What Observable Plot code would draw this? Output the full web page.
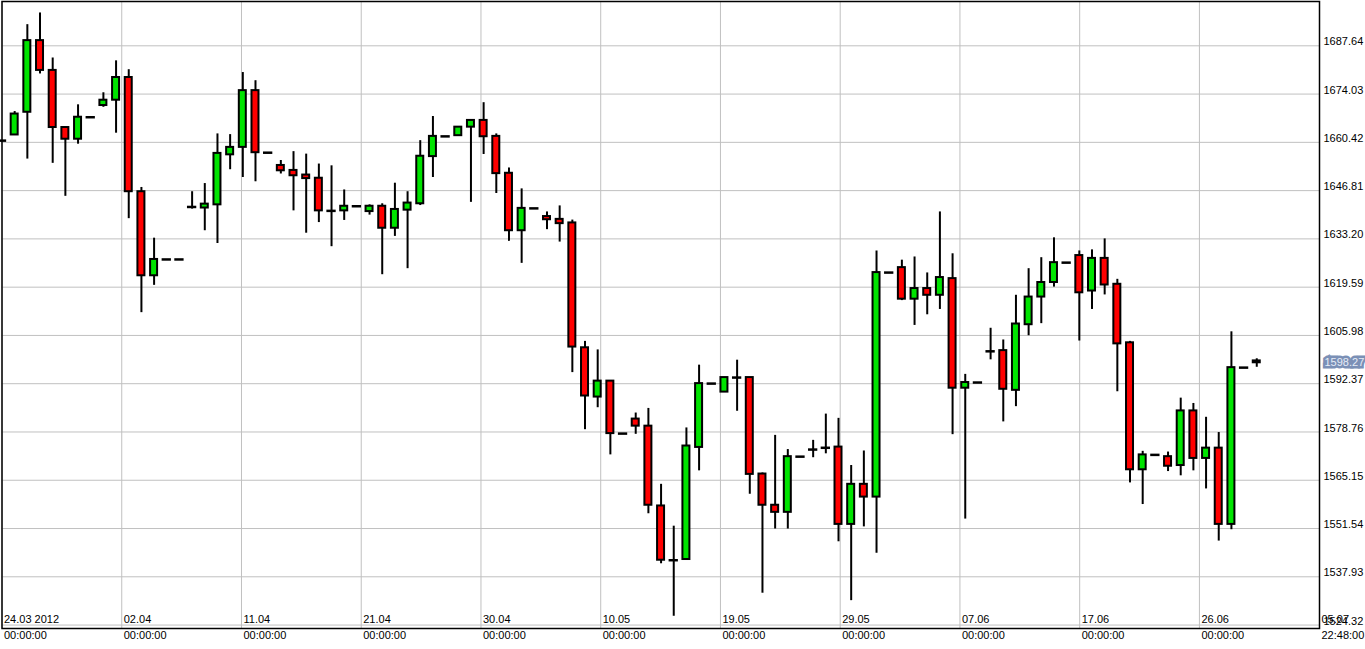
<!DOCTYPE html>
<html><head><meta charset="utf-8">
<script src="https://cdn.jsdelivr.net/npm/d3@7"></script>
<script src="https://cdn.jsdelivr.net/npm/@observablehq/plot@0.6"></script>
<style>html,body{margin:0;padding:0;background:#fff;overflow:hidden}</style>
</head><body><div id="chart"></div>
<script>
// Daily bars, first bar = 24.03.2012
const firstDay = "2012-03-24";
const opens = [1660.9,1662.5,1668.9,1689.1,1680.7,1664.6,1661.3,1667.5,1670.8,1672.3,
1678.7,1646.5,1622.8,1627.4,1627.4,1642.2,1641.9,1642.8,1656.9,1659.0,
1675.0,1657.5,1653.9,1652.5,1651.2,1650.3,1641.1,1641.1,1642.4,1640.9,
1642.4,1636.2,1641.3,1643.1,1656.4,1662.1,1662.3,1664.7,1666.6,1662.1,
1651.7,1635.5,1641.8,1639.5,1638.7,1637.7,1602.5,1588.6,1593.1,1578.3,
1582.4,1580.4,1557.9,1542.6,1542.8,1574.4,1592.4,1590.0,1594.1,1594.1,
1566.9,1558.1,1556.1,1571.8,1573.8,1574.3,1574.5,1552.7,1564.0,1560.4,
1623.7,1625.1,1616.2,1619.2,1617.3,1622.0,1591.1,1592.7,1601.5,1601.7,
1590.5,1609.0,1616.8,1620.9,1626.5,1628.5,1618.5,1627.7,1620.4,1603.9,
1568.1,1572.3,1571.8,1569.3,1584.7,1571.3,1574.2,1552.7,1596.9,1598.8];
const highs = [1660.9,1669.1,1693.6,1696.9,1684.2,1664.6,1671.0,1667.5,1674.4,1683.4,
1680.9,1647.7,1633.4,1627.4,1627.4,1646.5,1648.8,1662.8,1662.6,1680.1,
1677.8,1657.5,1655.3,1657.8,1657.1,1654.3,1653.8,1647.0,1642.4,1642.8,
1643.1,1648.9,1646.5,1660.9,1667.7,1662.1,1664.7,1666.6,1671.6,1662.8,
1653.2,1647.3,1641.8,1640.8,1642.5,1638.5,1604.3,1601.9,1593.1,1578.3,
1584.1,1585.4,1564.0,1552.2,1579.9,1597.6,1592.4,1594.1,1599.0,1594.1,
1567.2,1577.8,1573.8,1571.8,1576.4,1583.8,1582.6,1569.3,1573.4,1629.8,
1623.7,1627.2,1628.1,1623.6,1640.8,1629.0,1595.0,1592.7,1608.0,1604.7,
1617.3,1624.8,1627.9,1633.5,1626.5,1629.8,1630.1,1633.2,1621.8,1604.3,
1573.3,1572.3,1573.1,1588.3,1586.8,1582.9,1578.6,1607.0,1596.9,1599.4];
const lows = [1660.9,1662.5,1655.7,1679.7,1654.5,1645.2,1659.9,1667.5,1670.3,1663.0,
1638.9,1612.4,1620.1,1627.4,1627.4,1641.6,1635.5,1631.9,1652.7,1650.5,
1649.3,1657.5,1651.5,1641.1,1634.8,1637.8,1631.0,1638.4,1642.4,1639.9,
1623.1,1633.9,1624.8,1642.6,1650.5,1662.1,1662.3,1643.5,1657.0,1646.0,
1632.5,1626.3,1641.8,1635.8,1632.3,1595.5,1579.4,1585.6,1572.3,1578.3,
1578.1,1555.7,1541.6,1526.8,1542.8,1567.8,1592.4,1590.0,1584.6,1561.2,
1533.3,1551.4,1551.4,1571.8,1571.5,1572.6,1547.8,1531.2,1552.0,1544.6,
1623.7,1615.8,1608.8,1611.8,1613.3,1578.0,1554.2,1592.7,1599.1,1581.6,
1585.9,1605.9,1609.3,1619.6,1626.5,1604.4,1613.3,1617.4,1590.1,1564.4,
1558.3,1572.3,1567.6,1566.4,1567.8,1562.7,1548.0,1551.2,1596.9,1597.0];
const closes = [1660.9,1668.4,1689.1,1680.7,1664.6,1661.3,1667.5,1667.5,1672.3,1678.7,
1646.5,1622.8,1627.4,1627.4,1627.4,1642.2,1643.0,1657.3,1659.0,1675.0,
1657.5,1657.5,1652.4,1651.0,1650.2,1641.1,1641.1,1642.4,1642.4,1642.4,
1636.2,1641.5,1643.3,1656.5,1662.1,1662.1,1664.7,1666.6,1662.0,1651.6,
1635.5,1641.8,1641.8,1638.6,1637.5,1602.7,1588.9,1593.1,1578.3,1578.3,
1580.4,1558.1,1542.6,1542.6,1574.8,1592.4,1592.4,1594.1,1594.1,1566.8,
1558.1,1556.1,1571.8,1571.8,1573.8,1574.3,1552.7,1564.0,1560.4,1623.7,
1623.7,1616.2,1619.2,1617.3,1622.3,1591.1,1592.7,1592.7,1601.5,1590.8,
1609.2,1616.8,1620.9,1626.5,1626.5,1618.0,1627.7,1620.2,1603.6,1568.1,
1572.3,1572.3,1569.1,1584.7,1571.3,1574.2,1552.7,1596.9,1596.9,1598.27];

// Price axis ticks
const yTicks = [1524.32,1537.93,1551.54,1565.15,1578.76,1592.37,1605.98,1619.59,1633.20,1646.81,1660.42,1674.03,1687.64];
// Time axis ticks
const xTickTimes = ["2012-03-24T00:00:00Z","2012-04-02T10:44:00Z","2012-04-11T21:29:00Z","2012-04-21T08:13:00Z",
"2012-04-30T18:58:00Z","2012-05-10T05:42:00Z","2012-05-19T16:26:00Z","2012-05-29T03:11:00Z",
"2012-06-07T13:55:00Z","2012-06-17T00:40:00Z","2012-06-26T11:24:00Z","2012-07-05T22:48:00Z"];
const xDateLabels = ["24.03 2012","02.04","11.04","21.04","30.04","10.05","19.05","29.05","07.06","17.06","26.06","05.07"];
const xTimeLabels = ["00:00:00","00:00:00","00:00:00","00:00:00","00:00:00","00:00:00","00:00:00","00:00:00","00:00:00","00:00:00","00:00:00","22:48:00"];
const xDomain = ["2012-03-24T00:00:00Z","2012-07-05T22:48:00Z"];
const yDomain = [1523.35, 1700.13];
const currentPrice = 1598.27;

const DAY = 86400000;
const t0 = Date.parse(firstDay + "T00:00:00Z");
const candles = opens.map((o, i) => ({
  date: new Date(t0 + i * DAY), open: o, high: highs[i], low: lows[i], close: closes[i]
}));
const xTicks = xTickTimes.map(s => new Date(s));
const BODY = 0.276 * DAY, DASH = 0.367 * DAY;
const GREEN = "#00e400", RED = "#ff0000";

const chart = Plot.plot({
  width: 1365, height: 649,
  marginLeft: 1.5, marginRight: 46, marginTop: 1, marginBottom: 21,
  style: {fontFamily: "'Liberation Sans', Arial, sans-serif", fontSize: "11px", background: "#fff", color: "#000"},
  x: {type: "utc", domain: xDomain.map(s => new Date(s)), axis: null},
  y: {domain: yDomain, axis: null},
  marks: [
    Plot.gridY(yTicks, {stroke: "#c0c0c0", strokeOpacity: 1}),
    Plot.gridX(xTicks, {stroke: "#c0c0c0", strokeOpacity: 1}),
    Plot.ruleX(candles, {x: "date", y1: "low", y2: "high", stroke: "#000", strokeWidth: 2}),
    Plot.rect(candles.filter(d => d.open !== d.close), {
      x1: d => new Date(+d.date - BODY), x2: d => new Date(+d.date + BODY),
      y1: "open", y2: "close",
      fill: d => d.close > d.open ? GREEN : RED, stroke: "#000", strokeWidth: 2
    }),
    Plot.ruleY(candles.filter(d => d.open === d.close), {
      y: "close", x1: d => new Date(+d.date - DASH), x2: d => new Date(+d.date + DASH),
      stroke: "#000", strokeWidth: 2.5
    }),
    Plot.frame({stroke: "#000", strokeWidth: 1.5}),
    Plot.text(yTicks, {y: d => d, frameAnchor: "right", dx: 4, dy: -4, textAnchor: "start", text: d => d.toFixed(2), fill: "#000"}),
    Plot.text(xTicks, {x: d => d, frameAnchor: "bottom", dx: 2, dy: -6, textAnchor: "start", text: (d, i) => xDateLabels[i], fill: "#000"}),
    Plot.text(xTicks, {x: d => d, frameAnchor: "bottom", dx: 2, dy: 10, textAnchor: "start", text: (d, i) => xTimeLabels[i], fill: "#000"}),
    Plot.text([currentPrice], {y: d => d, frameAnchor: "right", dx: 5, textAnchor: "start",
      text: d => d.toFixed(2), fill: "#e6ecf6", stroke: "#7b90b6", strokeWidth: 5, strokeLinejoin: "miter"})
  ]
});
document.getElementById("chart").appendChild(chart);
</script>
</body></html>
